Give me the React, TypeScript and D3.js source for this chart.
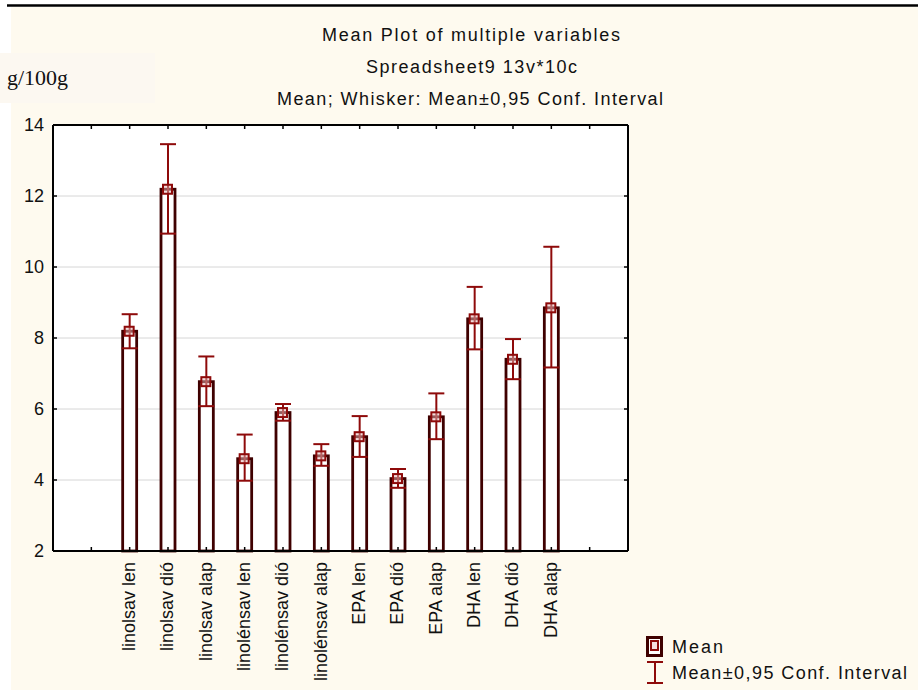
import React from "react";
import * as d3 from "d3";

const categories = [
  "linolsav len", "linolsav dió", "linolsav alap",
  "linolénsav len", "linolénsav dió", "linolénsav alap",
  "EPA len", "EPA dió", "EPA alap",
  "DHA len", "DHA dió", "DHA alap",
];
const means = [8.19, 12.19, 6.77, 4.6, 5.9, 4.68, 5.22, 4.04, 5.78, 8.54, 7.4, 8.85];
const lower = [7.71, 10.94, 6.08, 3.98, 5.67, 4.4, 4.65, 3.78, 5.15, 7.68, 6.84, 7.17];
const upper = [8.67, 13.46, 7.48, 5.28, 6.14, 5.01, 5.8, 4.31, 6.44, 9.44, 7.97, 10.57];
const yTicks = [2, 4, 6, 8, 10, 12, 14];
const titles = [
  "Mean Plot of multiple variables",
  "Spreadsheet9 13v*10c",
  "Mean; Whisker: Mean±0,95 Conf. Interval",
];
const yUnit = "g/100g";
const legendLabels = ["Mean", "Mean±0,95 Conf. Interval"];

const W = 918, H = 690;
const L = 53, R = 628, T = 125, B = 551;
const BAR = "#3f0000";
const RED = "#8e0a0a";
const FONT = "'Liberation Sans', Arial, sans-serif";

export default function App() {
  const x = d3.scaleLinear().domain([0, categories.length + 3]).range([L, R]);
  const y = d3.scaleLinear().domain([2, 14]).range([B, T]);
  const xTickIdx = d3.range(1, categories.length + 3);
  const barW = 14;
  const cap = 8;
  const mk = 9;

  const titleGeom = [
    { cx: 471, base: 41, len: 298 },
    { cx: 471.5, base: 73, len: 211 },
    { cx: 470, base: 105, len: 386 },
  ];

  return (
    <svg width={W} height={H} style={{ position: "absolute", left: 0, top: 0, display: "block" }}>
      <rect x={0} y={0} width={W} height={H} fill="#ffffff" />
      <rect x={11} y={7} width={W - 11} height={H - 7} fill="#fefaef" />
      <rect x={0} y={53} width={155} height={50} fill="#fcf8f1" />
      <line x1={7} x2={W} y1={5.5} y2={5.5} stroke="#000" strokeWidth={2.5} />

      {titles.map((t, i) => (
        <text key={i} x={titleGeom[i].cx} y={titleGeom[i].base} textAnchor="middle"
          fontFamily={FONT} fontSize={18} fill="#111"
          textLength={titleGeom[i].len} lengthAdjust="spacing">{t}</text>
      ))}
      <text x={7} y={85} fontFamily="'Liberation Serif', 'Times New Roman', serif" fontSize={20}
        fill="#111" textLength={61} lengthAdjust="spacingAndGlyphs">{yUnit}</text>

      {/* plot area */}
      <rect x={L} y={T} width={R - L} height={B - T} fill="#ffffff" />
      {yTicks.filter(v => v > 2 && v < 14).map(v => (
        <line key={v} x1={L} x2={R} y1={y(v)} y2={y(v)} stroke="#d6d6d6" strokeWidth={1} />
      ))}

      {/* bars */}
      {categories.map((c, i) => (
        <rect key={c} x={x(i + 2) - barW / 2} y={y(means[i])} width={barW}
          height={B - y(means[i])} fill="#ffffff" stroke={BAR} strokeWidth={2.8} />
      ))}

      {/* whiskers */}
      {categories.map((c, i) => {
        const cx = x(i + 2);
        return (
          <g key={c} stroke={RED} strokeWidth={2} fill="none">
            <line x1={cx} x2={cx} y1={y(upper[i])} y2={y(lower[i])} />
            <line x1={cx - cap} x2={cx + cap} y1={y(upper[i])} y2={y(upper[i])} />
            <line x1={cx - cap} x2={cx + cap} y1={y(lower[i])} y2={y(lower[i])} />
            <rect x={cx - mk / 2 - 0.5} y={y(means[i]) - mk / 2} width={mk} height={mk}
              stroke={RED} strokeWidth={2} fill="#e8b8b8" fillOpacity={0.5} />
          </g>
        );
      })}

      {/* frame */}
      <g stroke="#000" fill="none">
        <line x1={L} x2={R} y1={T} y2={T} strokeWidth={2} />
        <line x1={L} x2={R} y1={B} y2={B} strokeWidth={2} />
        <line x1={L} x2={L} y1={T} y2={B} strokeWidth={2} />
        <line x1={R} x2={R} y1={T} y2={B} strokeWidth={2} />
        {xTickIdx.map(k => (
          <g key={k}>
            <line x1={x(k)} x2={x(k)} y1={T} y2={T + 4} strokeWidth={1.5} />
            <line x1={x(k)} x2={x(k)} y1={B} y2={B - 4} strokeWidth={1.5} />
          </g>
        ))}
        {yTicks.map(v => (
          <g key={v}>
            <line x1={L} x2={L + 4} y1={y(v)} y2={y(v)} strokeWidth={1.5} />
            <line x1={R} x2={R - 4} y1={y(v)} y2={y(v)} strokeWidth={1.5} />
          </g>
        ))}
      </g>

      {yTicks.map(v => (
        <text key={v} x={44} y={y(v)} dy="0.36em" textAnchor="end" fontFamily={FONT}
          fontSize={18} fill="#111">{v}</text>
      ))}

      {categories.map((c, i) => (
        <text key={c} transform={`translate(${x(i + 2) - 1},${562}) rotate(-90)`}
          textAnchor="end" dy="0.36em" fontFamily={FONT} fontSize={18} fill="#111">{c}</text>
      ))}

      {/* legend */}
      <g>
        <rect x={647.5} y={637.5} width={14} height={18} fill="#fff" stroke={BAR} strokeWidth={3} />
        <rect x={651} y={641} width={7} height={9} fill="#f6dede" stroke={RED} strokeWidth={2} />
        <text x={672} y={653} fontFamily={FONT} fontSize={18} fill="#111"
          textLength={51} lengthAdjust="spacing">{legendLabels[0]}</text>
        <g stroke={RED} strokeWidth={2}>
          <line x1={655} x2={655} y1={662} y2={683} />
          <line x1={647} x2={663} y1={662} y2={662} />
          <line x1={647} x2={663} y1={683} y2={683} />
        </g>
        <text x={672} y={679} fontFamily={FONT} fontSize={18} fill="#111"
          textLength={235} lengthAdjust="spacing">{legendLabels[1]}</text>
      </g>
    </svg>
  );
}
